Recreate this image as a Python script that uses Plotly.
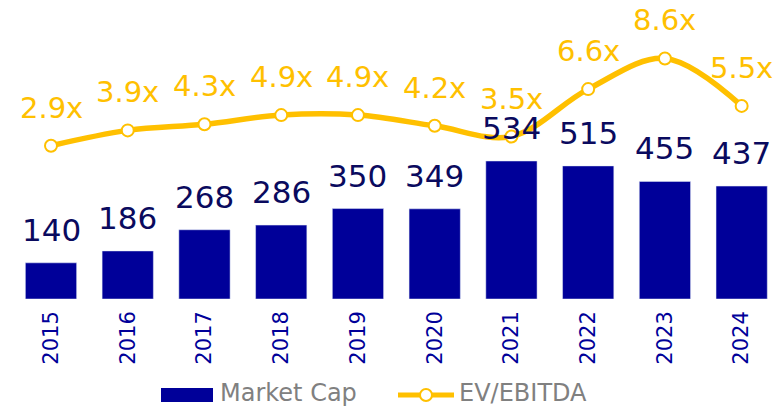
import plotly.graph_objects as go

years = ["2015", "2016", "2017", "2018", "2019", "2020", "2021", "2022", "2023", "2024"]
market_cap = [140, 186, 268, 286, 350, 349, 534, 515, 455, 437]
ev_ebitda = [2.9, 3.9, 4.3, 4.9, 4.9, 4.2, 3.5, 6.6, 8.6, 5.5]
ev_labels = ["2.9x", "3.9x", "4.3x", "4.9x", "4.9x", "4.2x", "3.5x", "6.6x", "8.6x", "5.5x"]

NAVY = "#000099"
NAVY_TXT = "#0a0a5e"
GOLD = "#FFC000"
GREY = "#808080"
FONT = "DejaVu Sans"

W, H = 774, 408
PLOT_BOTTOM = 299  # pixel row of x axis


def px(x):  # pixel -> paper x
    return x / W


def py(y):  # pixel -> paper y
    return (PLOT_BOTTOM - y) / PLOT_BOTTOM


fig = go.Figure()
fig.add_trace(go.Bar(
    x=years, y=market_cap, name="Market Cap",
    marker=dict(color=NAVY), width=0.668, showlegend=False,
))
fig.add_trace(go.Scatter(
    x=years, y=ev_ebitda, name="EV/EBITDA", yaxis="y2",
    mode="lines+markers",
    line=dict(color=GOLD, width=5.5, shape="spline", smoothing=1),
    marker=dict(size=12, color="white", line=dict(color=GOLD, width=2)),
    showlegend=False, cliponaxis=False,
))

annotations = []
for i, v in enumerate(market_cap):
    annotations.append(dict(
        x=i, y=v, xref="x", yref="y", text=str(v), showarrow=False,
        yanchor="middle", yshift=33,
        font=dict(family=FONT, size=31, color=NAVY_TXT),
    ))
for i, (v, lab) in enumerate(zip(ev_ebitda, ev_labels)):
    annotations.append(dict(
        x=i, y=v, xref="x", yref="y2", text=lab, showarrow=False,
        yanchor="middle", yshift=38,
        font=dict(family=FONT, size=29, color=GOLD),
    ))

# manual legend
annotations.append(dict(
    x=px(218), y=py(393), xref="paper", yref="paper", text="Market Cap",
    showarrow=False, xanchor="left", yanchor="middle",
    font=dict(family=FONT, size=24, color=GREY),
))
annotations.append(dict(
    x=px(457), y=py(393), xref="paper", yref="paper", text="EV/EBITDA",
    showarrow=False, xanchor="left", yanchor="middle",
    font=dict(family=FONT, size=24, color=GREY),
))

shapes = [
    dict(type="rect", xref="paper", yref="paper",
         x0=px(161), x1=px(213), y0=py(402), y1=py(388),
         fillcolor=NAVY, line=dict(width=0)),
    dict(type="line", xref="paper", yref="paper",
         x0=px(398), x1=px(454), y0=py(395), y1=py(395),
         line=dict(color=GOLD, width=5)),
    dict(type="circle", xref="paper", yref="paper",
         x0=px(420), x1=px(432), y0=py(401), y1=py(389),
         fillcolor="white", line=dict(color=GOLD, width=2)),
]

fig.update_layout(
    width=W, height=H,
    margin=dict(l=0, r=0, t=0, b=H - PLOT_BOTTOM, autoexpand=False),
    paper_bgcolor="white", plot_bgcolor="white",
    font=dict(family=FONT),
    xaxis=dict(
        type="category", range=[-51 / 76.74, (W - 51) / 76.74],
        tickangle=-90, showgrid=False, showline=False, zeroline=False,
        ticks="", tickfont=dict(family=FONT, size=21, color=NAVY),
        ticklabelstandoff=7, automargin=False,
    ),
    yaxis=dict(range=[0, PLOT_BOTTOM / 0.2584], visible=False,
               showgrid=False, zeroline=False),
    yaxis2=dict(range=[2.9 - (PLOT_BOTTOM - 145.7) / 15.3, 2.9 + 145.7 / 15.3],
                overlaying="y", side="right",
                visible=False, showgrid=False, zeroline=False),
    annotations=annotations,
    shapes=shapes,
    showlegend=False,
)

# remove the browser's default 8px body margin so the figure fills the window
fig.write_html(
    "out.html",
    config={"displayModeBar": False},
    post_script="document.body.style.margin='0';document.body.style.overflow='hidden';",
)
